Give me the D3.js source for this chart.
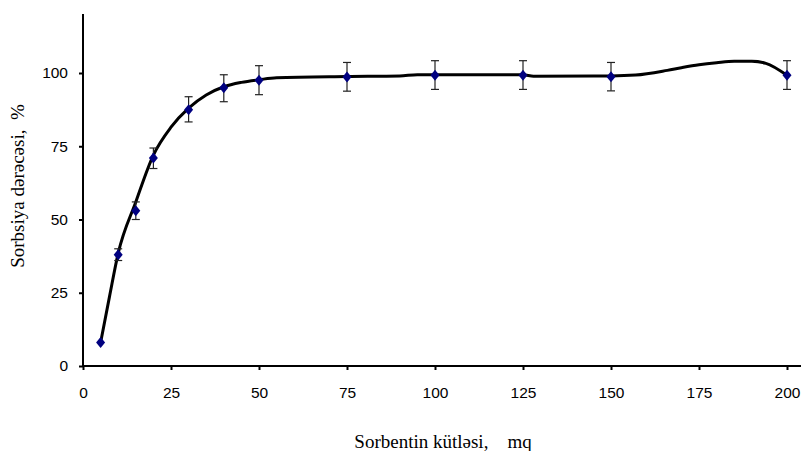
<!DOCTYPE html>
<head>
  <meta charset="UTF-8">
  <style>
    *{ margin: 0px; }
    body{ background-color: white; }
    svg{ position: absolute; }
    .tick text{ font-family: "Liberation Sans", Arial, sans-serif; font-size: 15.5px; fill: #000; }
  </style>
  <script src="https://d3js.org/d3.v7.min.js"></script>
</head>
<body>
  <svg id="chart" width="801" height="451"></svg>
  <script>
    // measured points
    var mass = [5, 10, 15, 20, 30, 40, 50, 75, 100, 125, 150, 200];
    var sorption = [8, 38, 53, 71, 87.5, 95, 97.5, 98.6, 99.2, 99.2, 98.7, 99.2];
    var errLow = [0, 2, 3, 3.6, 4.2, 4.8, 4.9, 4.8, 4.8, 4.8, 4.8, 4.8];
    var errHigh = [0, 2, 3, 3.4, 4.4, 4.4, 5, 5, 5, 5, 4.9, 5];

    // drawn smooth curve
    var curveX = [5, 7.5, 10, 15, 20, 25, 30, 35, 40, 45, 50, 55, 75, 90, 95, 125, 128, 150, 157, 166, 170, 175, 180, 185, 190, 194, 200];
    var curveY = [8, 23.5, 38.5, 56, 72, 81.5, 88, 92.5, 95.3, 96.8, 97.7, 98.4, 98.8, 99, 99.4, 99.4, 98.9, 99, 99.3, 100.9, 101.8, 102.8, 103.5, 104, 104, 103.3, 99.2];

    var xTicks = [0, 25, 50, 75, 100, 125, 150, 175, 200];
    var yTicks = [0, 25, 50, 75, 100];

    var svg = d3.select("#chart");

    var x = d3.scaleLinear().domain([0, 200]).range([83, 787]);
    var y = d3.scaleLinear().domain([0, 100]).range([366, 73]);

    // axes
    svg.append("g")
      .attr("transform", "translate(0,366)")
      .call(d3.axisBottom(x).tickValues(xTicks).tickSize(4).tickPadding(17).tickSizeOuter(0))
      .call(g => g.select(".domain").remove())
      .call(g => g.selectAll(".tick line").attr("stroke", "#000").attr("stroke-width", 2));

    svg.append("g")
      .attr("transform", "translate(83,0)")
      .call(d3.axisLeft(y).tickValues(yTicks).tickSize(4).tickPadding(11).tickSizeOuter(0))
      .call(g => g.select(".domain").remove())
      .call(g => g.selectAll(".tick line").attr("stroke", "#000").attr("stroke-width", 2));

    svg.append("line")
      .attr("x1", 83).attr("x2", 801)
      .attr("y1", 366).attr("y2", 366)
      .attr("stroke", "#000").attr("stroke-width", 2);

    svg.append("line")
      .attr("x1", 83).attr("x2", 83)
      .attr("y1", 14).attr("y2", 367)
      .attr("stroke", "#000").attr("stroke-width", 2);

    // curve
    var line = d3.line()
      .x(d => x(d[0]))
      .y(d => y(d[1]))
      .curve(d3.curveMonotoneX);

    svg.append("path")
      .datum(d3.zip(curveX, curveY))
      .attr("d", line)
      .attr("fill", "none")
      .attr("stroke", "#000")
      .attr("stroke-width", 3);

    var pts = mass.map((m, i) => ({x: m, y: sorption[i], lo: errLow[i], hi: errHigh[i]}));

    // error bars
    var eb = svg.append("g").selectAll("g")
      .data(pts.filter(d => d.lo > 0 || d.hi > 0))
      .enter().append("g")
      .attr("stroke", "#222")
      .attr("stroke-width", 1.2);

    eb.append("line")
      .attr("x1", d => x(d.x)).attr("x2", d => x(d.x))
      .attr("y1", d => y(d.y - d.lo)).attr("y2", d => y(d.y + d.hi));
    eb.append("line")
      .attr("x1", d => x(d.x) - 4).attr("x2", d => x(d.x) + 4)
      .attr("y1", d => y(d.y - d.lo)).attr("y2", d => y(d.y - d.lo));
    eb.append("line")
      .attr("x1", d => x(d.x) - 4).attr("x2", d => x(d.x) + 4)
      .attr("y1", d => y(d.y + d.hi)).attr("y2", d => y(d.y + d.hi));

    // diamond markers
    svg.append("g").selectAll("path")
      .data(pts)
      .enter().append("path")
      .attr("d", "M0,-5.5L4.5,0L0,5.5L-4.5,0Z")
      .attr("transform", d => "translate(" + x(d.x) + "," + y(d.y) + ")")
      .attr("fill", "#000080");

    // labels
    var serif = "'Liberation Serif', 'Times New Roman', 'DejaVu Serif', serif";

    svg.append("text")
      .attr("font-family", serif)
      .attr("font-size", "19px")
      .style("white-space", "pre")
      .attr("text-anchor", "middle")
      .attr("transform", "translate(24,186) rotate(-90)")
      .text("Sorbsiya dərəcəsi,  %");

    svg.append("text")
      .attr("font-family", serif)
      .attr("font-size", "19px")
      .style("white-space", "pre")
      .attr("text-anchor", "middle")
      .attr("x", 443).attr("y", 448)
      .text("Sorbentin kütləsi,    mq");
  </script>
</body>
